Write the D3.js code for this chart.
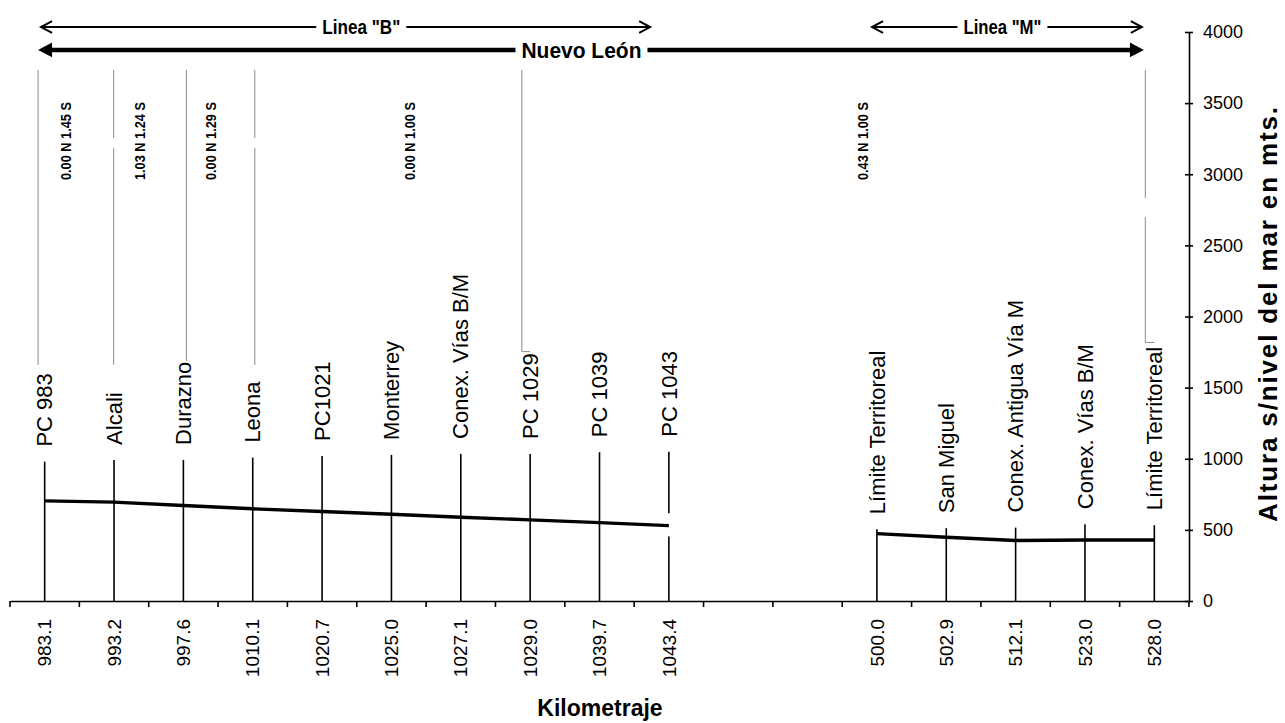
<!DOCTYPE html>
<html><head><meta charset="utf-8">
<script src="https://cdn.jsdelivr.net/npm/d3@7"></script>
<style>body{margin:0;background:#fff}svg{display:block}text{font-family:"Liberation Sans",Arial,sans-serif;fill:#000}</style>
</head><body><svg id="c" width="1285" height="723"></svg>
<script>
// ---- data ----
const kmLabels = ["983.1","993.2","997.6","1010.1","1020.7","1025.0","1027.1","1029.0","1039.7","1043.4","","","500.0","502.9","512.1","523.0","528.0"];
const stations = ["PC 983","Alcali","Durazno","Leona","PC1021","Monterrey","Conex. Vías B/M","PC 1029","PC 1039","PC 1043","","","Límite Territoreal","San Miguel","Conex. Antigua Vía M","Conex. Vías B/M","Límite Territoreal"];
const elevB = [704, 695, 671, 648, 629, 610, 589, 570, 551, 530];   // categories 0..9
const elevM = [474, 448, 425, 429, 429];                             // categories 12..16
const stemTops = [980, 992, 992, 1008, 1020, 1027, 1034, 1034, 1046, 1050, null, null, 505, 512, 516, 540, 533];
const stemGaps = [{i: 9, lo: 453, hi: 617}];
const yTicks = [0, 500, 1000, 1500, 2000, 2500, 3000, 3500, 4000];
const slopeTexts = ["0.00 N 1.45 S", "1.03 N 1.24 S", "0.00 N 1.29 S", "0.00 N 1.00 S", "0.43 N 1.00 S"];
const slopeAt = [0.31, 1.37, 2.39, 5.27, 11.79];
const sepAt = [-0.095, 0.995, 2.043, 3.03, 6.88, 15.87];
const sepBottom = [1660, 1660, 1688, 1660, 1753, 1817];
const sepHookTo = [null, null, null, null, 7, 16];
const sepGaps = [null, [3184, 3254], null, [3184, 3254], null, [2699, 2832]];
const arrowLabels = ['Linea "B"', 'Nuevo León', 'Linea "M"'];
const arrowFrom = [-0.052, -0.095, 11.93];
const arrowTo = [8.73, 15.85, 15.82];
const arrowTextAt = [4.565, 7.74, 13.81];
const arrowAlt = [4035, 3874, 4035];
const arrowHeavy = [false, true, false];

// ---- layout ----
const svg = d3.select("#c");
const idx = d3.range(kmLabels.length);
const x = d3.scaleBand().domain(idx).range([10, 1189]).paddingInner(0).paddingOuter(0);
const xc = i => x(i) + x.bandwidth() / 2;
const xi = d3.scaleLinear().domain([0, 16]).range([xc(0), xc(16)]);
const y = d3.scaleLinear().domain([0, 4000]).range([601, 32]);
const FONT = '"Liberation Sans",Arial,sans-serif';

// separators (gray)
sepAt.forEach((s, k) => {
  const xx = xi(s);
  const segs = [];
  const top = y(3734), bot = y(sepBottom[k]);
  if (sepGaps[k]) {
    segs.push([top, y(sepGaps[k][1])]);
    segs.push([y(sepGaps[k][0]), bot]);
  } else segs.push([top, bot]);
  segs.forEach(sg => svg.append("line").attr("x1", xx).attr("x2", xx).attr("y1", sg[0]).attr("y2", sg[1])
    .attr("stroke", "#8a8a8a").attr("stroke-width", 1));
  if (sepHookTo[k] != null) {
    svg.append("line").attr("x1", xx).attr("x2", xc(sepHookTo[k])).attr("y1", bot).attr("y2", bot)
      .attr("stroke", "#8a8a8a").attr("stroke-width", 1);
  }
});

// slope texts
slopeTexts.forEach((t, k) => {
  svg.append("text").attr("transform", `translate(${xi(slopeAt[k])},${y(2959)}) rotate(-90)`)
    .attr("dy", "0.35em").attr("font-size", 15).attr("font-weight", "bold")
    .attr("textLength", 78).attr("lengthAdjust", "spacingAndGlyphs").text(t);
});

// arrows
arrowLabels.forEach((lab, k) => {
  const yy = y(arrowAlt[k]);
  const x0 = xi(arrowFrom[k]), x1 = xi(arrowTo[k]), tx = xi(arrowTextAt[k]);
  const heavy = arrowHeavy[k];
  const tl = heavy ? 120 : 78;
  const fs = heavy ? 22 : 20;
  svg.append("text").attr("x", tx).attr("y", yy).attr("dy", "0.36em").attr("text-anchor", "middle")
    .attr("font-size", fs).attr("font-weight", "bold")
    .attr("textLength", tl).attr("lengthAdjust", "spacingAndGlyphs").text(lab);
  const sw = heavy ? 4.5 : 2;
  const gap = 6;
  const ah = heavy ? 13 : 2;
  svg.append("line").attr("x1", x0 + ah).attr("x2", tx - tl / 2 - gap).attr("y1", yy).attr("y2", yy)
    .attr("stroke", "#000").attr("stroke-width", sw);
  svg.append("line").attr("x1", tx + tl / 2 + gap).attr("x2", x1 - ah).attr("y1", yy).attr("y2", yy)
    .attr("stroke", "#000").attr("stroke-width", sw);
  if (heavy) {
    svg.append("path").attr("d", `M${x0},${yy}L${x0 + 14},${yy - 7.3}L${x0 + 14},${yy + 7.3}Z`).attr("fill", "#000");
    svg.append("path").attr("d", `M${x1},${yy}L${x1 - 14},${yy - 7.3}L${x1 - 14},${yy + 7.3}Z`).attr("fill", "#000");
  } else {
    svg.append("path").attr("d", `M${x0 + 11},${yy - 5.8}L${x0},${yy}L${x0 + 11},${yy + 5.8}`)
      .attr("fill", "none").attr("stroke", "#000").attr("stroke-width", 2);
    svg.append("path").attr("d", `M${x1 - 11},${yy - 5.8}L${x1},${yy}L${x1 - 11},${yy + 5.8}`)
      .attr("fill", "none").attr("stroke", "#000").attr("stroke-width", 2);
  }
});

// stems
idx.forEach(i => {
  if (stemTops[i] == null) return;
  const g = stemGaps.find(d => d.i === i);
  const segs = g ? [[0, g.lo], [g.hi, stemTops[i]]] : [[0, stemTops[i]]];
  segs.forEach(sg => svg.append("line").attr("x1", xc(i)).attr("x2", xc(i))
    .attr("y1", y(sg[0])).attr("y2", y(sg[1])).attr("stroke", "#000").attr("stroke-width", 1.6));
  svg.append("text").attr("transform", `translate(${xc(i)},${y(stemTops[i]) - 15}) rotate(-90)`)
    .attr("dy", "0.35em").attr("font-size", 22).text(stations[i]);
});

// data lines
const line = d3.line().x(d => xc(d.i)).y(d => y(d.v));
const serB = elevB.map((v, k) => ({i: k, v}));
const serM = elevM.map((v, k) => ({i: k + 12, v}));
[serB, serM].forEach(s => svg.append("path").datum(s).attr("d", line)
  .attr("fill", "none").attr("stroke", "#000").attr("stroke-width", 3.4));

// x axis
const xAxis = svg.append("g").attr("transform", "translate(0,601)")
  .call(d3.axisBottom(x).tickSize(0).tickFormat(i => kmLabels[i]));
xAxis.select(".domain").attr("stroke", "#000").attr("stroke-width", 1.6);
xAxis.selectAll(".tick text").attr("transform", "rotate(-90)").attr("text-anchor", "end")
  .attr("x", -18).attr("y", 0).attr("dy", "0.35em").attr("font-size", 19).attr("font-family", FONT).attr("fill", "#000");
d3.range(kmLabels.length + 1).forEach(k => {
  const bx = 10 + k * x.step();
  svg.append("line").attr("x1", bx).attr("x2", bx).attr("y1", 601).attr("y2", 607).attr("stroke", "#000").attr("stroke-width", 1.6);
});
svg.append("text").attr("x", 600).attr("y", 716).attr("text-anchor", "middle")
  .attr("font-size", 23).attr("font-weight", "bold").text("Kilometraje");

// y axis
const yAxis = svg.append("g").attr("transform", "translate(1189,0)")
  .call(d3.axisRight(y).tickValues(yTicks).tickSizeOuter(0).tickFormat(d3.format("d")));
yAxis.select(".domain").attr("stroke", "#000").attr("stroke-width", 1.6);
yAxis.selectAll(".tick line").attr("x1", -4).attr("x2", 4).attr("stroke", "#000").attr("stroke-width", 1.6);
yAxis.selectAll(".tick text").attr("x", 14).attr("font-size", 18).attr("font-family", FONT).attr("fill", "#000");
svg.append("text").attr("transform", "translate(1277,107) rotate(-90)").attr("text-anchor", "end")
  .attr("font-size", 26).attr("font-weight", "bold")
  .attr("textLength", 415).attr("lengthAdjust", "spacing").text("Altura s/nivel del mar en mts.");
</script></body></html>
